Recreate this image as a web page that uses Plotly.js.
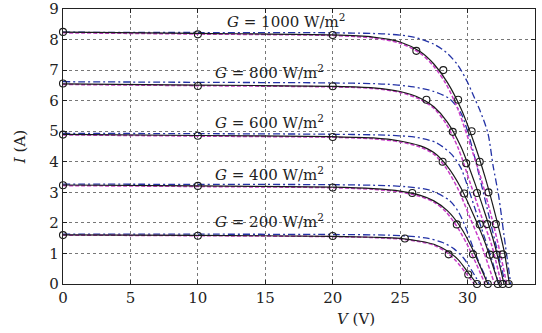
<!DOCTYPE html>
<html>
<head>
<meta charset="utf-8">
<script src="https://cdn.plot.ly/plotly-3.0.1.min.js"></script>
<style>html,body{margin:0;padding:0;background:#fff;}#chart{width:542px;height:333px;}</style>
</head>
<body>
<div id="chart"></div>
<script>
// Irradiance levels
const irradiance = [1000, 800, 600, 400, 200];

// Measured points (circles)
const measV_1000 = [0, 10, 20, 26.2, 28.2, 29.3, 30.3, 30.9, 31.55, 32.1, 32.6, 33.05];
const measI_1000 = [8.25, 8.17, 8.15, 7.63, 7.0, 6.03, 5.0, 4.0, 3.0, 1.96, 0.97, 0];
const measV_800 = [0, 10, 20, 26.95, 28.9, 29.9, 30.7, 31.45, 32.15, 32.6];
const measI_800 = [6.56, 6.48, 6.47, 6.03, 4.98, 3.95, 2.98, 1.96, 0.96, 0];
const measV_600 = [0, 10, 20, 28.15, 29.75, 30.9, 31.65, 32.25];
const measI_600 = [4.89, 4.85, 4.81, 4.0, 2.96, 1.95, 0.96, 0];
const measV_400 = [0, 10, 20, 25.9, 29.2, 30.4, 31.5];
const measI_400 = [3.23, 3.21, 3.16, 2.98, 1.95, 0.97, 0];
const measV_200 = [0, 10, 20, 25.35, 28.6, 30.05, 30.7];
const measI_200 = [1.60, 1.58, 1.57, 1.49, 0.97, 0.31, 0];

// Model curve (solid black)
const solidV_1000 = [0, 10, 20, 23, 25, 26.5, 27.5, 28.5, 29.5, 30.5, 31.3, 32.1, 32.7, 33.1];
const solidI_1000 = [8.24, 8.2, 8.15, 8.08, 7.92, 7.6, 7.2, 6.6, 5.75, 4.6, 3.5, 2.2, 1.1, 0];
const solidV_800 = [0, 10, 20, 23, 25, 26.5, 27.5, 28.5, 29.5, 30.5, 31.3, 32.0, 32.7];
const solidI_800 = [6.55, 6.51, 6.47, 6.42, 6.3, 6.08, 5.8, 5.3, 4.5, 3.35, 2.3, 1.3, 0];
const solidV_600 = [0, 10, 20, 23, 25, 26.5, 27.5, 28.5, 29.5, 30.5, 31.3, 32.3];
const solidI_600 = [4.9, 4.86, 4.82, 4.78, 4.68, 4.52, 4.3, 3.85, 3.15, 2.2, 1.35, 0];
const solidV_400 = [0, 10, 20, 23, 25, 26.5, 27.5, 28.5, 29.5, 30.3, 31.5];
const solidI_400 = [3.24, 3.21, 3.17, 3.12, 3.04, 2.9, 2.72, 2.4, 1.85, 1.2, 0];
const solidV_200 = [0, 10, 20, 23, 25, 26.5, 27.5, 28.5, 29.3, 30.0, 30.7];
const solidI_200 = [1.61, 1.59, 1.56, 1.53, 1.49, 1.4, 1.3, 1.08, 0.8, 0.4, 0];

// Second model (magenta dashed)
const dashV_1000 = [0, 10, 20, 23, 25, 26.5, 27.5, 28.4, 29.3, 30.2, 31.0, 31.8, 32.4, 32.9];
const dashI_1000 = [8.22, 8.18, 8.13, 8.05, 7.88, 7.55, 7.12, 6.55, 5.7, 4.55, 3.45, 2.15, 1.05, 0];
const dashV_800 = [0, 10, 20, 23, 25, 26.5, 27.5, 28.4, 29.3, 30.2, 31.0, 31.8, 32.5];
const dashI_800 = [6.53, 6.49, 6.45, 6.4, 6.27, 6.04, 5.75, 5.25, 4.45, 3.3, 2.25, 1.25, 0];
const dashV_600 = [0, 10, 20, 23, 25, 26.5, 27.5, 28.4, 29.3, 30.2, 31.0, 32.0];
const dashI_600 = [4.88, 4.84, 4.8, 4.75, 4.65, 4.48, 4.25, 3.8, 3.1, 2.15, 1.3, 0];
const dashV_400 = [0, 10, 20, 23, 25, 26.5, 27.5, 28.4, 29.3, 30.1, 31.3];
const dashI_400 = [3.22, 3.19, 3.15, 3.1, 3.01, 2.86, 2.68, 2.36, 1.82, 1.18, 0];
const dashV_200 = [0, 10, 20, 23, 25, 26.5, 27.5, 28.4, 29.1, 29.8, 30.5];
const dashI_200 = [1.6, 1.58, 1.55, 1.52, 1.47, 1.38, 1.27, 1.05, 0.78, 0.4, 0];

// Third model (blue dash-dot)
const ddV_1000 = [0, 10, 20, 24, 26, 27.5, 28.5, 29.3, 30.0, 30.5, 30.9, 31.5, 31.9, 32.3, 32.7, 33.2];
const ddI_1000 = [8.24, 8.23, 8.22, 8.18, 8.08, 7.85, 7.55, 7.15, 6.6, 6.1, 5.7, 4.95, 3.85, 2.9, 1.6, 0];
const ddV_800 = [0, 10, 20, 24, 26, 27.5, 28.7, 29.5, 30.0, 30.5, 31.0, 31.6, 32.2, 32.8];
const ddI_800 = [6.62, 6.6, 6.58, 6.54, 6.45, 6.3, 6.05, 5.6, 5.0, 4.2, 3.3, 2.2, 1.1, 0];
const ddV_600 = [0, 10, 20, 24, 26.2, 27.7, 28.8, 29.5, 30.0, 30.6, 31.2, 31.8, 32.3];
const ddI_600 = [4.93, 4.92, 4.9, 4.87, 4.8, 4.62, 4.25, 3.8, 3.2, 2.4, 1.6, 0.8, 0];
const ddV_400 = [0, 10, 20, 24, 25.5, 27.2, 28.7, 29.4, 29.9, 30.4, 31.0, 31.6];
const ddI_400 = [3.27, 3.26, 3.25, 3.22, 3.18, 3.07, 2.72, 2.3, 1.8, 1.2, 0.55, 0];
const ddV_200 = [0, 10, 20, 24, 25.5, 27.0, 28.2, 29.0, 29.7, 30.3, 30.9];
const ddI_200 = [1.63, 1.63, 1.62, 1.6, 1.57, 1.5, 1.35, 1.15, 0.85, 0.45, 0];

// Curve label texts and anchor positions (data coords)
const labelTexts = ['<i>G</i> = 1000 W/m<sup>2</sup>', '<i>G</i> = 800 W/m<sup>2</sup>', '<i>G</i> = 600 W/m<sup>2</sup>', '<i>G</i> = 400 W/m<sup>2</sup>', '<i>G</i> = 200 W/m<sup>2</sup>'];
const labelV = [16.5, 15.3, 15.3, 15.3, 15.3];
const labelI = [8.6, 6.95, 5.3, 3.6, 2.05];

const xTicks = [0, 5, 10, 15, 20, 25, 30, 35];
const yTicks = [0, 1, 2, 3, 4, 5, 6, 7, 8, 9];

const meas = [[measV_1000, measI_1000], [measV_800, measI_800], [measV_600, measI_600], [measV_400, measI_400], [measV_200, measI_200]];
const solid = [[solidV_1000, solidI_1000], [solidV_800, solidI_800], [solidV_600, solidI_600], [solidV_400, solidI_400], [solidV_200, solidI_200]];
const dashed = [[dashV_1000, dashI_1000], [dashV_800, dashI_800], [dashV_600, dashI_600], [dashV_400, dashI_400], [dashV_200, dashI_200]];
const dashdot = [[ddV_1000, ddI_1000], [ddV_800, ddI_800], [ddV_600, ddI_600], [ddV_400, ddI_400], [ddV_200, ddI_200]];

const traces = [];
dashdot.forEach(function (d) {
  traces.push({x: d[0], y: d[1], type: 'scatter', mode: 'lines', showlegend: false, hoverinfo: 'skip',
    line: {color: '#2433a6', width: 1.3, dash: '7px,3px,2px,3px', shape: 'spline', smoothing: 0.8}});
});
dashed.forEach(function (d) {
  traces.push({x: d[0], y: d[1], type: 'scatter', mode: 'lines', showlegend: false, hoverinfo: 'skip',
    line: {color: '#c83cc8', width: 1.5, dash: '4px,2px', shape: 'spline', smoothing: 0.8}});
});
solid.forEach(function (d) {
  traces.push({x: d[0], y: d[1], type: 'scatter', mode: 'lines', showlegend: false, hoverinfo: 'skip',
    line: {color: '#1a1a1a', width: 1.2, shape: 'spline', smoothing: 0.8}});
});
meas.forEach(function (d) {
  traces.push({x: d[0], y: d[1], type: 'scatter', mode: 'markers', showlegend: false, hoverinfo: 'skip', cliponaxis: false,
    marker: {symbol: 'circle-open', size: 7, color: '#1a1a1a', line: {width: 1.1, color: '#1a1a1a'}}});
});

const serif = 'DejaVu Serif, Liberation Serif, serif';
const annotations = labelTexts.map(function (t, i) {
  return {x: labelV[i], y: labelI[i], xref: 'x', yref: 'y', text: t, showarrow: false,
    font: {family: serif, size: 15, color: '#222'}};
});
// x-axis title placed as annotation below the tick labels
annotations.push({x: 0.62, y: 0, xref: 'paper', yref: 'paper', yshift: -35, yanchor: 'middle', xanchor: 'center',
  text: '<i>V</i> (V)', showarrow: false, font: {family: serif, size: 15, color: '#222'}});

const layout = {
  width: 542, height: 333,
  margin: {l: 63, r: 7, t: 9, b: 49},
  paper_bgcolor: '#fff', plot_bgcolor: '#fff',
  showlegend: false,
  font: {family: serif, size: 15, color: '#222'},
  xaxis: {range: [0, 35], tickvals: xTicks, ticktext: xTicks.map(String), ticks: 'inside', ticklen: 4, tickcolor: '#222',
    showline: true, mirror: 'ticks', linecolor: '#222', linewidth: 1.2,
    showgrid: true, gridcolor: '#777', griddash: 'dot', gridwidth: 1, zeroline: false,
    tickfont: {family: serif, size: 15, color: '#222'}},
  yaxis: {range: [0, 9], tickvals: yTicks, ticktext: yTicks.map(String), ticks: 'inside', ticklen: 4, tickcolor: '#222',
    showline: true, mirror: 'ticks', linecolor: '#222', linewidth: 1.2,
    showgrid: true, gridcolor: '#777', griddash: 'dot', gridwidth: 1, zeroline: false,
    tickfont: {family: serif, size: 15, color: '#222'},
    title: {text: '<i>I</i> (A)', font: {family: serif, size: 15, color: '#222'}, standoff: 20}},
  annotations: annotations
};

Plotly.newPlot('chart', traces, layout, {staticPlot: true, displayModeBar: false});
</script>
</body>
</html>
